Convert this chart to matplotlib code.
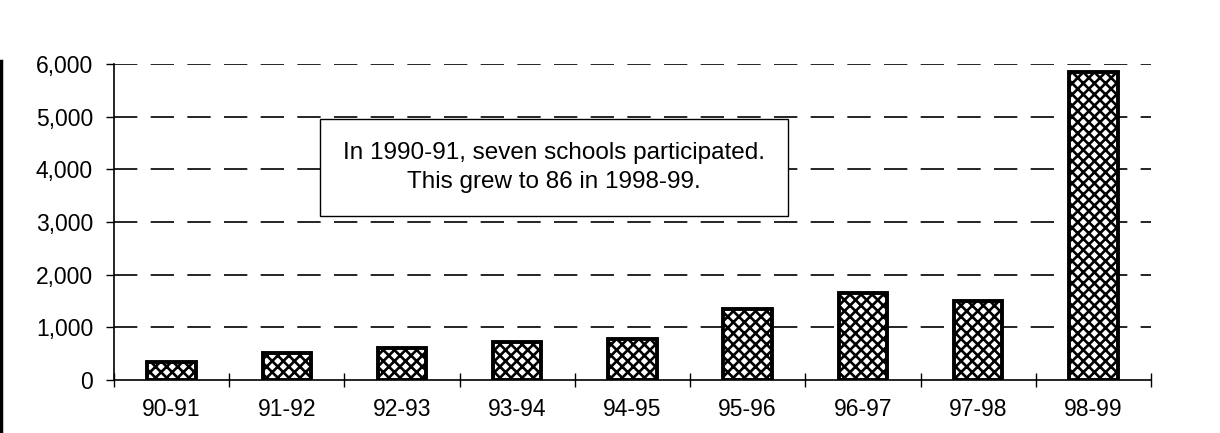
# Participation by school year, bar chart with hatched bars
import matplotlib.pyplot as plt
from matplotlib.ticker import FuncFormatter, FixedLocator, NullFormatter
from matplotlib.lines import Line2D

# Data
years = ["90-91", "91-92", "92-93", "93-94", "94-95", "95-96", "96-97", "97-98", "98-99"]
participants = [345, 505, 612, 727, 778, 1347, 1657, 1505, 5850]
y_ticks = [0, 1000, 2000, 3000, 4000, 5000, 6000]
note = "In 1990-91, seven schools participated.\nThis grew to 86 in 1998-99."

plt.rcParams['font.family'] = ['Liberation Sans', 'DejaVu Sans']
plt.rcParams['hatch.linewidth'] = 1.9

fig = plt.figure(figsize=(12.2, 4.33), dpi=100)
ax = fig.add_axes([0.0934, 0.1224, 0.8500, 0.7296])

x = list(range(len(years)))
ax.bar(x, participants, width=0.42, color="white", edgecolor="black",
       linewidth=2.8, hatch="xxx", zorder=3)

ax.set_xlim(-0.5, len(years) - 0.5)
ax.set_ylim(0, 6000)

# dashed gridlines
ax.set_yticks(y_ticks)
ax.yaxis.set_major_formatter(FuncFormatter(lambda v, p: "{:,.0f}".format(v)))
for v in y_ticks[1:]:
    ax.axhline(v, color="black", linewidth=1.2, dashes=(14, 8), zorder=1)

# x ticks between categories, labels centred under bars
ax.xaxis.set_major_locator(FixedLocator([i - 0.5 for i in range(len(years) + 1)]))
ax.xaxis.set_major_formatter(NullFormatter())
ax.xaxis.set_minor_locator(FixedLocator(x))
ax.set_xticklabels(years, minor=True)
ax.tick_params(axis="x", which="minor", length=0, pad=13, labelsize=16.5)
ax.tick_params(axis="x", which="major", direction="inout", length=10, width=1)
ax.tick_params(axis="y", direction="out", length=6, width=1, pad=9, labelsize=16.5)

for s in ["top", "right"]:
    ax.spines[s].set_visible(False)
ax.spines["left"].set_linewidth(1.2)
ax.spines["bottom"].set_linewidth(1.2)

ax.text(3.32, 4030, note, ha="center", va="center", fontsize=17.5, linespacing=1.4,
        zorder=5,
        bbox=dict(boxstyle="square,pad=0.95", facecolor="white", edgecolor="black",
                  linewidth=1.0))

# scan edge at the left side
fig.add_artist(Line2D([0.001, 0.001], [0.0, 0.86], color="black", linewidth=2.5))

fig.savefig("out.png", dpi=100)
